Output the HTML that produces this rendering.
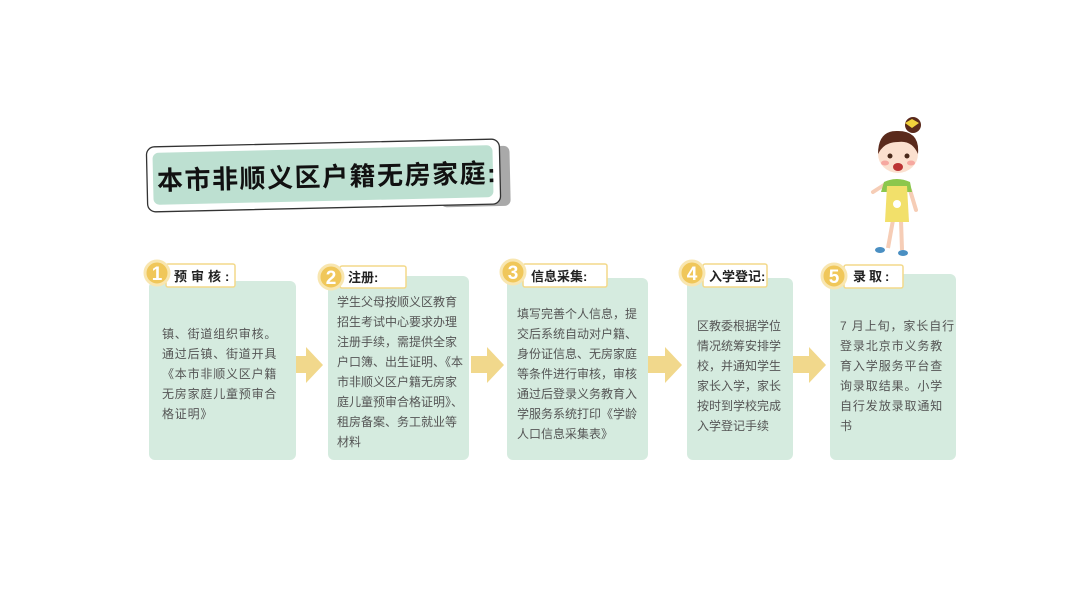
<!DOCTYPE html>
<html><head><meta charset="utf-8"><style>
body{margin:0;background:#fff;}
svg{display:block}
.t{font-family:"Liberation Sans","Noto Sans CJK SC",sans-serif;font-size:12px;fill:#555;}
.h{font-family:"Liberation Sans","Noto Sans CJK SC",sans-serif;font-size:13px;font-weight:bold;fill:#222;}
.n{font-family:"Liberation Sans","Noto Sans CJK SC",sans-serif;font-size:19px;fill:#fff;font-weight:bold;}
</style></head><body>
<svg width="1078" height="606" viewBox="0 0 1078 606">
<g transform="rotate(-1.3 323 175)">
<rect x="440" y="150" width="70" height="60" rx="6" fill="#a9a9a9"/>
<rect x="147" y="143" width="353" height="65" rx="8" fill="#fff" stroke="#333" stroke-width="1.3"/>
<rect x="153" y="149" width="340" height="52" rx="6" fill="#bde0d1"/>
<text x="157" y="186" font-family="Liberation Sans,'Noto Sans CJK SC',sans-serif" font-size="26" font-weight="bold" fill="#111" letter-spacing="1.5">本市非顺义区户籍无房家庭:</text>
</g>
<g fill="#d5ebdf">
<rect x="149" y="281" width="147" height="179" rx="6"/>
<rect x="328" y="276" width="141" height="184" rx="6"/>
<rect x="507" y="278" width="141" height="182" rx="6"/>
<rect x="687" y="278" width="106" height="182" rx="6"/>
<rect x="830" y="274" width="126" height="186" rx="6"/>
</g>
<g fill="#f1d88c">
<polygon points="296,356 306,356 306,347 323,365 306,383 306,373 296,373"/>
<polygon points="471,356 487,356 487,347 504,365 487,383 487,373 471,373"/>
<polygon points="648,356 665,356 665,347 682,365 665,383 665,373 648,373"/>
<polygon points="793,356 809,356 809,347 826,365 809,383 809,373 793,373"/>
</g>
<g fill="#fff" stroke="#f3d98a" stroke-width="1.5">
<rect x="166" y="264" width="69" height="23" rx="2"/>
<rect x="340" y="266" width="66" height="22" rx="2"/>
<rect x="523" y="264" width="84" height="23" rx="2"/>
<rect x="703" y="264" width="64" height="23" rx="2"/>
<rect x="844" y="265" width="59" height="23" rx="2"/>
</g>
<g fill="#f0c75a" stroke="#f8e6b0" stroke-width="3">
<circle cx="157" cy="273" r="12"/>
<circle cx="331" cy="277" r="12"/>
<circle cx="513" cy="272" r="12"/>
<circle cx="692" cy="273" r="12"/>
<circle cx="834" cy="276" r="12"/>
</g>
<text class="n" x="157" y="280" text-anchor="middle">1</text>
<text class="n" x="331" y="284" text-anchor="middle">2</text>
<text class="n" x="513" y="279" text-anchor="middle">3</text>
<text class="n" x="692" y="280" text-anchor="middle">4</text>
<text class="n" x="834" y="283" text-anchor="middle">5</text>
<text class="h" x="174" y="281" letter-spacing="4">预审核:</text>
<text class="h" x="348" y="282">注册:</text>
<text class="h" x="531" y="281">信息采集:</text>
<text class="h" x="709" y="281">入学登记:</text>
<text class="h" x="853" y="281" letter-spacing="3">录取:</text>
<g class="t">
<g letter-spacing="0.8">
<text x="162" y="338">镇、街道组织审核。</text>
<text x="162" y="358">通过后镇、街道开具</text>
<text x="162" y="378">《本市非顺义区户籍</text>
<text x="162" y="398">无房家庭儿童预审合</text>
<text x="162" y="418">格证明》</text>
</g>
<text x="337" y="306">学生父母按顺义区教育</text>
<text x="337" y="326">招生考试中心要求办理</text>
<text x="337" y="346">注册手续，需提供全家</text>
<text x="337" y="366">户口簿、出生证明、《本</text>
<text x="337" y="386">市非顺义区户籍无房家</text>
<text x="337" y="406">庭儿童预审合格证明》、</text>
<text x="337" y="426">租房备案、务工就业等</text>
<text x="337" y="446">材料</text>

<text x="517" y="318">填写完善个人信息，提</text>
<text x="517" y="338">交后系统自动对户籍、</text>
<text x="517" y="358">身份证信息、无房家庭</text>
<text x="517" y="378">等条件进行审核，审核</text>
<text x="517" y="398">通过后登录义务教育入</text>
<text x="517" y="418">学服务系统打印《学龄</text>
<text x="517" y="438">人口信息采集表》</text>

<text x="697" y="330">区教委根据学位</text>
<text x="697" y="350">情况统筹安排学</text>
<text x="697" y="370">校，并通知学生</text>
<text x="697" y="390">家长入学，家长</text>
<text x="697" y="410">按时到学校完成</text>
<text x="697" y="430">入学登记手续</text>

<g letter-spacing="0.9">
<text x="840" y="330">7 月上旬，家长自行</text>
<text x="840" y="350">登录北京市义务教</text>
<text x="840" y="370">育入学服务平台查</text>
<text x="840" y="390">询录取结果。小学</text>
<text x="840" y="410">自行发放录取通知</text>
<text x="840" y="430">书</text>
</g>
</g>
<g>
<line x1="893" y1="220" x2="888" y2="248" stroke="#f6cdb6" stroke-width="4"/>
<line x1="901" y1="220" x2="902" y2="250" stroke="#f6cdb6" stroke-width="4"/>
<ellipse cx="880" cy="250" rx="5" ry="3" fill="#4a8fc2"/>
<ellipse cx="903" cy="253" rx="5" ry="3" fill="#4a8fc2"/>
<path d="M873 192 L884 185" stroke="#f6cdb6" stroke-width="4" stroke-linecap="round"/>
<path d="M910 190 L916 210" stroke="#f6cdb6" stroke-width="4" stroke-linecap="round"/>
<path d="M884 182 Q897 176 910 182 L912 192 L905 192 L907 222 L886 222 L888 192 L881 192 Z" fill="#8cc74c"/>
<path d="M887 186 L907 186 L909 222 L885 222 Z" fill="#f2e06a"/>
<circle cx="897" cy="204" r="4" fill="#fff"/>
<ellipse cx="898" cy="154" rx="20" ry="19" fill="#fbe0cf"/>
<path d="M878 154 Q878 130 898 131 Q920 131 918 154 Q912 140 898 142 Q884 142 878 154 Z" fill="#5a2a1c"/>
<circle cx="913" cy="125" r="8" fill="#5a2a1c"/>
<path d="M905 123 L912 119 L912 128 Z M919 123 L912 119 L912 128 Z" fill="#f1d23c"/>
<circle cx="890" cy="156" r="2.5" fill="#4a2a1c"/>
<circle cx="907" cy="156" r="2.5" fill="#4a2a1c"/>
<ellipse cx="898" cy="167" rx="5" ry="4" fill="#b33"/>
<ellipse cx="885" cy="163" rx="4" ry="2.5" fill="#f6a8a0"/>
<ellipse cx="911" cy="163" rx="4" ry="2.5" fill="#f6a8a0"/>
</g>
</svg>
</body></html>
